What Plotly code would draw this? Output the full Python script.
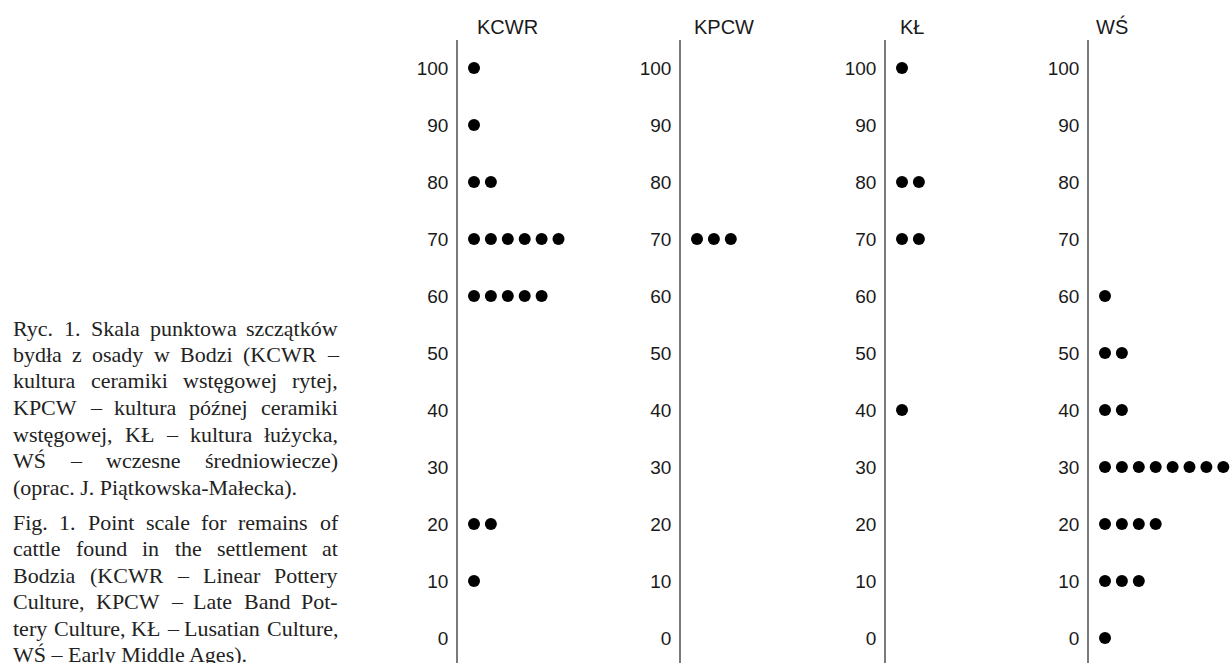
import plotly.graph_objects as go

# ---- data ----
scores = [0, 10, 20, 30, 40, 50, 60, 70, 80, 90, 100]
groups = ["KCWR", "KPCW", "KŁ", "WŚ"]
kcwr_counts = [0, 1, 2, 0, 0, 0, 5, 6, 2, 1, 1]
kpcw_counts = [0, 0, 0, 0, 0, 0, 0, 3, 0, 0, 0]
kl_counts = [0, 0, 0, 0, 1, 0, 0, 2, 2, 0, 1]
ws_counts = [1, 3, 4, 8, 2, 2, 1, 0, 0, 0, 0]
all_counts = [kcwr_counts, kpcw_counts, kl_counts, ws_counts]

caption_pl = [
    "Ryc. 1. Skala punktowa szczątków",
    "bydła z osady w Bodzi (KCWR –",
    "kultura ceramiki wstęgowej rytej,",
    "KPCW – kultura późnej ceramiki",
    "wstęgowej, KŁ – kultura łużycka,",
    "WŚ – wczesne średniowiecze)",
    "(oprac. J. Piątkowska-Małecka).",
]
caption_en = [
    "Fig. 1. Point scale for remains of",
    "cattle found in the settlement at",
    "Bodzia (KCWR – Linear Pottery",
    "Culture, KPCW – Late Band Pot-",
    "tery Culture, KŁ – Lusatian Culture,",
    "WŚ – Early Middle Ages).",
]

# ---- layout geometry (page pixels) ----
W, H = 1231, 663


def fx(px):
    return px / W


def fy(py):
    return 1 - py / H


axis_x = [458, 681, 886, 1089]
panel_end = [640, 860, 1060, 1231]
title_cx = [507, 724, 912, 1112]
dot_step = 16.9
y0_px, y_per = 638.0, 5.7  # page pixel of score 0, px per score unit
top_px = 40

fig = go.Figure()

for i, (g, counts) in enumerate(zip(groups, all_counts)):
    xs, ys = [], []
    for s, c in zip(scores, counts):
        for k in range(1, c + 1):
            xs.append(k)
            ys.append(s)
    ax = "" if i == 0 else str(i + 1)
    fig.add_trace(go.Scatter(
        x=xs, y=ys, mode="markers", xaxis="x" + ax, yaxis="y" + ax,
        marker=dict(size=12, color="black", line=dict(width=0)),
        showlegend=False, cliponaxis=False, hoverinfo="skip"))
    wpx = panel_end[i] - axis_x[i]
    r0 = 0.9 / dot_step
    fig.layout["xaxis" + ax] = dict(
        domain=[fx(axis_x[i]), min(1.0, fx(panel_end[i]))],
        range=[r0, r0 + wpx / dot_step],
        visible=False, anchor="y" + ax)
    ymin = (y0_px - H) / y_per
    ymax = (y0_px - top_px) / y_per
    fig.layout["yaxis" + ax] = dict(
        domain=[0, fy(top_px)], range=[ymin, ymax],
        anchor="x" + ax, showline=True, linecolor="#7a7a7a", linewidth=1.6,
        showgrid=False, zeroline=False, ticks="",
        tickvals=scores, ticktext=[str(s) for s in scores],
        tickfont=dict(family="Liberation Sans, Arial", size=19, color="#1a1a1a"),
        ticklabelstandoff=4)
    fig.add_annotation(
        x=fx(title_cx[i]), y=fy(27), xref="paper", yref="paper",
        text=g, showarrow=False, xanchor="center", yanchor="middle",
        font=dict(family="Liberation Sans, Arial", size=20, color="#1a1a1a"))

# ---- caption (justified using Times/Liberation Serif metrics) ----
widths = {
    " ": 250, "a": 444, "b": 500, "c": 444, "d": 500, "e": 444, "f": 333, "g": 500,
    "h": 500, "i": 278, "j": 278, "k": 500, "l": 278, "m": 778, "n": 500, "o": 500,
    "p": 500, "q": 500, "r": 333, "s": 389, "t": 278, "u": 500, "v": 500, "w": 722,
    "x": 500, "y": 500, "z": 444, "A": 722, "B": 667, "C": 667, "D": 722, "E": 611,
    "F": 556, "G": 722, "H": 722, "I": 333, "J": 389, "K": 722, "L": 611, "M": 889,
    "N": 722, "O": 722, "P": 556, "Q": 722, "R": 667, "S": 556, "T": 611, "U": 722,
    "V": 722, "W": 944, "X": 722, "Y": 722, "Z": 611, ".": 250, ",": 250, "(": 333,
    ")": 333, "–": 500, "-": 333, "ł": 278, "Ł": 611, "ą": 444, "ę": 444, "ó": 500,
    "ź": 444, "ż": 444, "ś": 389, "Ś": 556, "ń": 500,
}
for d in "0123456789":
    widths[d] = 500
fs = 22
cap_left, cap_right = 12, 337
cap_font = dict(family="Liberation Serif, Times New Roman", size=fs, color="#222222")


def tw(t):
    return sum(widths.get(ch, 500) for ch in t) * fs / 1000.0


def add_para(lines, y_first, pitch):
    for j, line in enumerate(lines):
        y = y_first + pitch * j
        words = line.split(" ")
        last = j == len(lines) - 1
        if last or len(words) == 1:
            fig.add_annotation(x=fx(cap_left), y=fy(y), xref="paper", yref="paper",
                               text=line, showarrow=False, xanchor="left", yanchor="middle",
                               borderpad=0, font=cap_font)
            continue
        total = sum(tw(w_) for w_ in words)
        gap = (cap_right - cap_left - total) / (len(words) - 1)
        x = cap_left
        for w_ in words:
            fig.add_annotation(x=fx(x), y=fy(y), xref="paper", yref="paper",
                               text=w_, showarrow=False, xanchor="left", yanchor="middle",
                               borderpad=0, font=cap_font)
            x += tw(w_) + gap


add_para(caption_pl, 328, 26.5)
add_para(caption_en, 522, 26.5)

fig.update_layout(
    width=W, height=H, margin=dict(l=0, r=0, t=0, b=0),
    paper_bgcolor="white", plot_bgcolor="white")

fig.write_html(
    "out.html",
    config={"displayModeBar": False},
    post_script="document.body.style.margin='0';document.body.style.overflow='hidden';")
